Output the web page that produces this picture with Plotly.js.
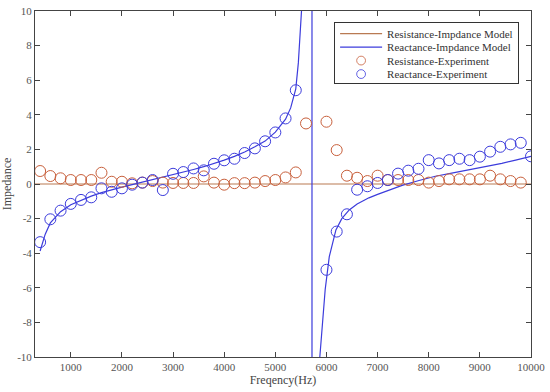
<!DOCTYPE html>
<html>
<head>
<meta charset="utf-8">
<script src="https://cdn.plot.ly/plotly-3.0.1.min.js"></script>
<style>html,body{margin:0;padding:0;background:#fff}#chart{width:550px;height:392px}</style>
</head>
<body>
<div id="chart"></div>
<script>
// Resistance model (flat line)
const resModelFreq = [300, 10000];
const resModelVal = [0, 0];

// Reactance model
const reaModelFreq = [400, 500, 600, 800, 1000, 1200, 1400, 1600, 1800, 2000, 2200, 2400, 2600, 2800, 3000, 3200, 3400, 3600, 3800, 4000, 4200, 4400, 4600, 4800, 5000, 5200, 5300, 5400, 5450, 5500, 5520, 5600, 5716, 5718, 5800, 5870, 5925, 5975, 6055, 6185, 6300, 6445, 6600, 6830, 7000, 7220, 7480, 7810, 8130, 8450, 8780, 9100, 9430, 9700, 10000];
const reaModelVal = [-3.87, -2.9, -2.25, -1.6, -1.2, -0.93, -0.7, -0.5, -0.33, -0.18, -0.04, 0.1, 0.24, 0.38, 0.53, 0.68, 0.84, 1.0, 1.18, 1.38, 1.6, 1.85, 2.15, 2.48, 3.0, 3.75, 4.4, 5.5, 7.0, 9.0, 10.4, 20, 200, -200, -20, -10, -8.0, -6.1, -4.2, -2.65, -2.0, -1.5, -1.15, -0.8, -0.6, -0.35, -0.08, 0.2, 0.45, 0.63, 0.81, 1.0, 1.19, 1.38, 1.6];

// Resistance experiment
const resExpFreq = [400, 600, 800, 1000, 1200, 1400, 1600, 1800, 2000, 2200, 2400, 2600, 2800, 3000, 3200, 3400, 3600, 3800, 4000, 4200, 4400, 4600, 4800, 5000, 5200, 5400, 5600, 6000, 6200, 6400, 6600, 6800, 7000, 7200, 7400, 7600, 7800, 8000, 8200, 8400, 8600, 8800, 9000, 9200, 9400, 9600, 9800];
const resExpVal = [0.75, 0.46, 0.33, 0.23, 0.23, 0.23, 0.65, 0.13, 0.13, 0.04, 0.08, 0.17, 0.08, 0.06, 0.06, 0.06, 0.44, 0.08, -0.04, 0.05, 0.05, 0.08, 0.17, 0.23, 0.38, 0.67, 3.5, 3.6, 1.96, 0.48, 0.36, 0.17, 0.48, 0.23, 0.23, 0.23, 0.23, 0.08, 0.17, 0.27, 0.27, 0.27, 0.27, 0.48, 0.27, 0.17, 0.08];

// Reactance experiment
const reaExpFreq = [400, 600, 800, 1000, 1200, 1400, 1600, 1800, 2000, 2200, 2400, 2600, 2800, 3000, 3200, 3400, 3600, 3800, 4000, 4200, 4400, 4600, 4800, 5000, 5200, 5400, 6000, 6200, 6400, 6600, 6800, 7000, 7200, 7400, 7600, 7800, 8000, 8200, 8400, 8600, 8800, 9000, 9200, 9400, 9600, 9800, 10000];
const reaExpVal = [-3.36, -2.04, -1.54, -1.15, -0.92, -0.77, -0.25, -0.45, -0.25, -0.04, 0.08, 0.23, -0.35, 0.59, 0.69, 0.9, 0.79, 1.17, 1.37, 1.46, 1.79, 2.06, 2.47, 2.98, 3.79, 5.42, -4.96, -2.75, -1.75, -0.33, -0.13, 0.06, 0.23, 0.6, 0.77, 0.88, 1.38, 1.19, 1.38, 1.46, 1.38, 1.58, 1.87, 2.15, 2.29, 2.38, 1.6];

const xTicks = [1000, 2000, 3000, 4000, 5000, 6000, 7000, 8000, 9000, 10000];
const yTicks = [-10, -8, -6, -4, -2, 0, 2, 4, 6, 8, 10];

const brownLine = '#b97a52';
const brownMark = '#c8603c';
const blue = '#3c3cdc';
const serif = 'Liberation Serif, Times New Roman, serif';

const traces = [
  {x: resModelFreq, y: resModelVal, mode: 'lines', name: 'Resistance-Impdance Model',
   line: {color: brownLine, width: 1.2}},
  {x: reaModelFreq, y: reaModelVal, mode: 'lines', name: 'Reactance-Impdance Model',
   line: {color: blue, width: 1.2}},
  {x: resExpFreq, y: resExpVal, mode: 'markers', name: 'Resistance-Experiment',
   marker: {symbol: 'circle-open', size: 11, color: brownMark, line: {width: 1, color: brownMark}}},
  {x: reaExpFreq, y: reaExpVal, mode: 'markers', name: 'Reactance-Experiment',
   marker: {symbol: 'circle-open', size: 11, color: blue, line: {width: 1, color: blue}}}
];

const axisCommon = {
  showgrid: false, zeroline: false, showline: true, mirror: 'ticks',
  linecolor: '#444', linewidth: 1, ticks: 'inside', ticklen: 5, tickcolor: '#444',
  tickfont: {family: serif, size: 11, color: '#555'}
};

const layout = {
  width: 550, height: 392,
  margin: {l: 35, r: 19, t: 11, b: 35},
  paper_bgcolor: '#fff', plot_bgcolor: '#fff',
  showlegend: true,
  font: {family: serif, color: '#444'},
  xaxis: Object.assign({}, axisCommon, {
    range: [300, 10000], tickvals: xTicks, ticktext: xTicks.map(String),
    title: {text: 'Freqency(Hz)', font: {size: 12, color: '#444'}, standoff: 2}
  }),
  yaxis: Object.assign({}, axisCommon, {
    range: [-10, 10], tickvals: yTicks, ticktext: yTicks.map(String),
    title: {text: 'Impedance', font: {size: 12, color: '#444'}, standoff: 8}
  }),
  legend: {
    x: 0.976, y: 0.968, xanchor: 'right', yanchor: 'top',
    bgcolor: '#fff', bordercolor: '#333', borderwidth: 1,
    font: {family: serif, size: 11, color: '#333'},
    itemwidth: 42, tracegroupgap: 0
  }
};

Plotly.newPlot('chart', traces, layout, {staticPlot: true, displayModeBar: false}).then(function (gd) {
  // compact the legend rows to match the reference spacing
  try {
    const leg = gd.querySelector('.legend');
    const items = leg.querySelectorAll('.traces');
    const rowH = 13.5;
    let x0 = null, y0 = null;
    items.forEach(function (it, i) {
      const m = /translate\(([-\d.]+),\s*([-\d.]+)\)/.exec(it.getAttribute('transform') || '');
      if (!m) return;
      if (x0 === null) { x0 = parseFloat(m[1]); y0 = parseFloat(m[2]) - 4; }
      it.setAttribute('transform', 'translate(' + x0 + ',' + (y0 + i * rowH) + ')');
      it.querySelectorAll('path.scatterpts').forEach(function (p) {
        const t = p.getAttribute('transform') || '';
        p.setAttribute('transform', t + ' scale(0.8)');
      });
    });
    const bg = leg.querySelector('rect.bg');
    if (bg && y0 !== null) {
      bg.setAttribute('height', String(y0 + (items.length - 1) * rowH + 9));
    }
  } catch (e) {}
});
</script>
</body>
</html>
